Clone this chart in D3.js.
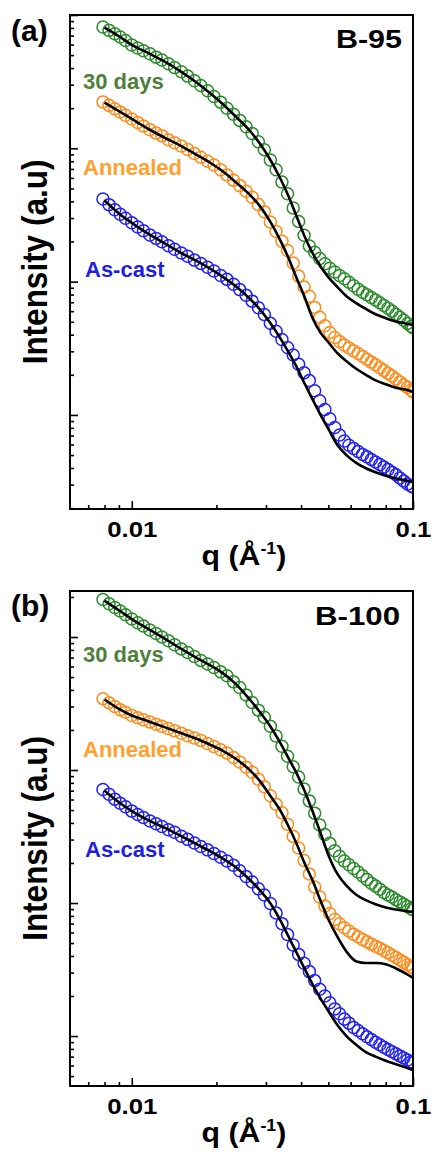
<html>
<head>
<meta charset="utf-8">
<title>SAXS profiles B-95 / B-100</title>
<style>
  body { margin: 0; background: #fff; }
  svg text { font-family: Arial, "Liberation Sans", sans-serif; font-weight: bold; }
</style>
</head>
<body>
<script src="https://cdn.jsdelivr.net/npm/d3@7/dist/d3.min.js"></script>
<script>

var width = 432,
    height = 1154;

// q values of the measured points (1/A)
var qData = [0.0079, 0.0083, 0.0087, 0.0091, 0.0095, 0.0100, 0.0105, 0.0110, 0.0116, 0.0122,
             0.0128, 0.0135, 0.0142, 0.0150, 0.0158, 0.0167, 0.0176, 0.0186, 0.0196, 0.0207,
             0.0218, 0.0230, 0.0242, 0.0255, 0.0268, 0.0282, 0.0296, 0.0311, 0.0326, 0.0342,
             0.0358, 0.0375, 0.0392, 0.0410, 0.0428, 0.0447, 0.0466, 0.0486, 0.0506, 0.0527,
             0.0548, 0.0570, 0.0592, 0.0615, 0.0638, 0.0662, 0.0686, 0.0711, 0.0736, 0.0762,
             0.0788, 0.0815, 0.0842, 0.0870, 0.0898, 0.0927, 0.0956, 0.0985, 0.1000];

// q values of the fitted curves
var qFit = [0.0080, 0.0090, 0.0100, 0.0115, 0.0130, 0.0150, 0.0170, 0.0190, 0.0210, 0.0235,
            0.0260, 0.0285, 0.0310, 0.0335, 0.0360, 0.0385, 0.0410, 0.0440, 0.0470, 0.0500,
            0.0540, 0.0580, 0.0630, 0.0680, 0.0740, 0.0800, 0.0870, 0.0940, 0.1000];

// B-95 intensities (a.u.)
var b95Days30 = [814, 767, 724, 684, 643, 596, 565, 540, 512, 483, 459, 431, 403, 375, 348, 321, 296, 270, 245, 222,
                 200, 180, 162, 145, 129, 112, 97.7, 81.8, 69.0, 55.8, 45.6, 35.7, 28.3, 22.3, 18.5, 16.6, 14.9, 13.6, 12.6, 11.8,
                 11.1, 10.5, 9.90, 9.30, 8.77, 8.32, 7.96, 7.61, 7.29, 6.95, 6.63, 6.31, 6.01, 5.70, 5.41, 5.13, 4.86, 4.63, 4.51];
var b95Annealed = [223, 210, 198, 187, 177, 166, 156, 147, 138, 130, 124, 116, 110, 104, 97.9, 91.4, 85.6, 79.9, 75.0, 69.1,
                   63.2, 57.7, 52.5, 47.6, 43.0, 37.9, 33.4, 28.0, 23.8, 20.1, 17.1, 13.8, 11.0, 9.12, 7.76, 6.41, 5.41, 4.66, 4.15, 3.81,
                   3.55, 3.35, 3.18, 3.03, 2.89, 2.74, 2.62, 2.49, 2.38, 2.26, 2.16, 2.05, 1.96, 1.86, 1.77, 1.68, 1.61, 1.53, 1.49];
var b95AsCast = [41.7, 37.8, 34.6, 32.0, 29.9, 27.6, 25.7, 24.1, 22.4, 21.1, 19.9, 18.6, 17.5, 16.4, 15.5, 14.5, 13.7, 12.8, 12.0, 11.1,
                 10.4, 9.56, 8.71, 7.89, 7.14, 6.37, 5.66, 4.88, 4.25, 3.68, 3.21, 2.82, 2.40, 2.07, 1.81, 1.52, 1.28, 1.10, 0.938, 0.806,
                 0.707, 0.637, 0.593, 0.561, 0.532, 0.506, 0.485, 0.464, 0.444, 0.425, 0.407, 0.389, 0.372, 0.356, 0.337, 0.319, 0.303, 0.293, 0.288];
var b95FitDays30 = [804, 693, 596, 516, 450, 375, 312, 259, 216, 172, 139, 109, 82.8, 61.2, 44.3, 31.1, 22.3, 16.3, 12.9, 10.8,
                    9.05, 7.78, 6.87, 6.24, 5.67, 5.32, 5.03, 4.86, 4.73];
var b95FitAnnealed = [220, 190, 166, 139, 121, 104, 89.4, 77.9, 67.5, 55.4, 45.9, 37.0, 28.4, 21.0, 15.2, 10.7, 7.83, 5.29, 4.11, 3.51,
                      2.89, 2.53, 2.21, 2.00, 1.81, 1.70, 1.60, 1.55, 1.49];
var b95FitAsCast = [40.6, 32.5, 27.6, 22.7, 19.5, 16.4, 14.3, 12.5, 10.9, 9.19, 7.61, 6.22, 4.93, 3.85, 2.98, 2.31, 1.75, 1.30, 0.991, 0.785,
                    0.589, 0.500, 0.435, 0.398, 0.370, 0.350, 0.334, 0.323, 0.314];

// B-100 intensities (a.u.)
var b100Days30 = [1914, 1778, 1667, 1567, 1472, 1365, 1279, 1208, 1130, 1062, 1002, 936, 875, 814, 764, 713, 667, 627, 590, 547,
                  511, 460, 417, 366, 322, 282, 249, 213, 180, 151, 127, 106, 88.6, 71.9, 58.6, 47.4, 38.6, 32.7, 28.1, 24.7,
                  22.5, 20.7, 19.4, 18.2, 17.1, 16.0, 15.0, 14.1, 13.4, 12.7, 12.0, 11.5, 11.1, 10.6, 10.2, 9.78, 9.41, 9.06, 8.89];
var b100Annealed = [344, 321, 300, 284, 272, 257, 247, 239, 230, 221, 213, 205, 197, 189, 181, 174, 167, 158, 150, 142,
                    134.5, 124, 115, 105, 96.3, 85.3, 74.9, 64.0, 55.3, 47.7, 39.1, 31.7, 25.9, 20.9, 16.5, 13.2, 11.1, 9.51, 8.34, 7.53,
                    6.99, 6.51, 6.16, 5.83, 5.58, 5.32, 5.11, 4.91, 4.73, 4.57, 4.40, 4.22, 4.05, 3.89, 3.73, 3.58, 3.44, 3.32, 3.26];
var b100AsCast = [71.3, 65.7, 60.4, 56.3, 52.9, 49.1, 46.3, 43.9, 41.4, 39.4, 37.6, 35.6, 34.0, 31.8, 30.1, 28.3, 26.6, 25.1, 23.6, 22.1,
                  20.7, 19.2, 17.5, 15.8, 14.4, 12.8, 11.5, 9.93, 8.40, 7.00, 5.79, 4.83, 4.11, 3.53, 3.05, 2.61, 2.25, 2.00, 1.78, 1.60,
                  1.47, 1.34, 1.25, 1.16, 1.10, 1.04, 0.986, 0.940, 0.898, 0.859, 0.822, 0.792, 0.763, 0.735, 0.709, 0.684, 0.661, 0.640, 0.629];
var b100FitDays30 = [1875, 1590, 1365, 1143, 982, 814, 697, 612, 537, 441, 348, 274, 215, 164, 124, 95.1, 71.0, 48.5, 33.2, 23.0,
                     16.4, 13.5, 11.5, 10.5, 9.76, 9.25, 8.94, 8.72, 8.56];
var b100FitAnnealed = [339, 288, 257, 232, 211, 189, 172, 155, 140, 121, 102, 82.9, 64.6, 50.9, 38.1, 28.1, 20.3, 14.7, 10.3, 7.55,
                       5.51, 4.31, 3.63, 3.54, 3.54, 3.47, 3.22, 2.96, 2.74];
var b100FitAsCast = [70.0, 57.3, 49.1, 41.8, 37.0, 31.8, 27.7, 24.5, 21.7, 18.5, 15.3, 12.5, 10.05, 7.63, 5.65, 4.25, 3.26, 2.44, 1.90, 1.54,
                     1.20, 1.00, 0.856, 0.758, 0.697, 0.651, 0.614, 0.581, 0.555];

var seriesNames = ["30 days", "Annealed", "As-cast"];
var xTickLabels = [0.01, 0.1];
var yTitle = "Intensity (a.u)";

var pointColors = ["#2b8a2b", "#ff8a18", "#2020f2"];
var labelColors = ["#4d7f3a", "#ffa030", "#1f1fe0"];

var panels = [
  { letter: "(a)", sample: "B-95", top: 15, bottom: 509, yDomain: [0.197, 1000],
    data: [b95Days30, b95Annealed, b95AsCast], fits: [b95FitDays30, b95FitAnnealed, b95FitAsCast],
    labelY: [89, 175, 277], letterY: 41, sampleY: 48, sampleX: 402, sampleSx: 1.22 },
  { letter: "(b)", sample: "B-100", top: 591, bottom: 1086, yDomain: [0.421, 2218],
    data: [b100Days30, b100Annealed, b100AsCast], fits: [b100FitDays30, b100FitAnnealed, b100FitAsCast],
    labelY: [662, 757, 857], letterY: 616, sampleY: 625, sampleX: 400, sampleSx: 1.25 }
];

var left = 70, right = 413;

var svg = d3.select("body")
            .append("svg")
            .attr("width", width)
            .attr("height", height);

var x = d3.scaleLog().domain([0.00603, 0.1]).range([left, right]);

function isDecade(v) {
  var l = Math.log10(v);
  return Math.abs(l - Math.round(l)) < 1e-9;
}

function scaledText(parent, txt, tx, ty, size, sx, anchor) {
  return parent.append("text")
    .attr("transform", "translate(" + tx + "," + ty + ") scale(" + sx + ",1)")
    .attr("text-anchor", anchor)
    .style("font-size", size + "px")
    .text(txt);
}

function drawPanel(p, idx) {
  var g = svg.append("g");
  var y = d3.scaleLog().domain(p.yDomain).range([p.bottom, p.top]);

  var clipId = "clip" + idx;
  g.append("clipPath").attr("id", clipId)
    .append("rect")
    .attr("x", left).attr("y", p.top)
    .attr("width", right - left).attr("height", p.bottom - p.top);

  // y ticks, inward
  var yTicks = y.ticks();
  var yMajor = yTicks.filter(isDecade), yMinor = yTicks.filter(function(v){ return !isDecade(v); });
  g.append("g").attr("transform", "translate(" + left + ",0)")
    .call(d3.axisLeft(y).tickValues(yMinor).tickSize(-4).tickFormat(""));
  g.append("g").attr("transform", "translate(" + left + ",0)")
    .call(d3.axisLeft(y).tickValues(yMajor).tickSize(-8).tickFormat(""));

  // x ticks, inward
  var xMinor = x.ticks().filter(function(v){ return !isDecade(v) && v >= x.domain()[0]; });
  g.append("g").attr("transform", "translate(0," + p.bottom + ")")
    .call(d3.axisBottom(x).tickValues(xMinor).tickSize(-4).tickFormat(""));
  var xAx = g.append("g").attr("transform", "translate(0," + p.bottom + ")")
    .call(d3.axisBottom(x).tickValues(xTickLabels).tickSize(-8).tickPadding(12)
          .tickFormat(function(d){ return String(d); }));
  xAx.selectAll("text")
    .style("font-size", "23px").attr("fill", "#000")
    .attr("transform", "scale(1.12,1)");

  g.selectAll(".domain").remove();
  g.selectAll(".tick line").attr("stroke", "#000").attr("stroke-width", 1.6);

  // data points then fits
  var plot = g.append("g").attr("clip-path", "url(#" + clipId + ")");
  p.data.forEach(function(series, s) {
    var pts = qData.map(function(q, i){ return { q: q, v: series[i] }; });
    plot.append("g").selectAll("circle").data(pts)
      .enter().append("circle")
      .attr("cx", function(d){ return x(d.q); })
      .attr("cy", function(d){ return y(d.v); })
      .attr("r", 6)
      .attr("fill", "none")
      .attr("stroke", pointColors[s])
      .attr("stroke-width", 1.5);
  });

  var line = d3.line()
    .x(function(d){ return x(d.q); })
    .y(function(d){ return y(d.v); })
    .curve(d3.curveMonotoneX);

  p.fits.forEach(function(series) {
    var pts = qFit.map(function(q, i){ return { q: q, v: series[i] }; });
    plot.append("path").datum(pts)
      .attr("d", line)
      .attr("fill", "none")
      .attr("stroke", "#000")
      .attr("stroke-width", 2.6);
  });

  // frame
  g.append("rect")
    .attr("x", left).attr("y", p.top)
    .attr("width", right - left).attr("height", p.bottom - p.top)
    .attr("fill", "none").attr("stroke", "#000").attr("stroke-width", 2);

  // series labels
  seriesNames.forEach(function(name, s) {
    g.append("text")
      .attr("x", s === 2 ? 85 : 83).attr("y", p.labelY[s])
      .attr("fill", labelColors[s])
      .style("font-size", "22px")
      .text(name);
  });

  // panel letter and sample name
  g.append("text").attr("x", 11).attr("y", p.letterY)
    .style("font-size", "30px").text(p.letter);
  scaledText(g, p.sample, p.sampleX, p.sampleY, 25, p.sampleSx, "end");

  // axis titles
  var cy = (p.top + p.bottom) / 2;
  g.append("text")
    .attr("transform", "translate(47," + cy + ") scale(1.1,1) rotate(-90)")
    .attr("text-anchor", "middle")
    .style("font-size", "31.5px")
    .text(yTitle);

  var qt = scaledText(g, "", 244, p.bottom + 56, 27, 1.12, "middle");
  qt.append("tspan").text("q (\u00C5");
  qt.append("tspan").attr("dy", -11).style("font-size", "16px").text("-1");
  qt.append("tspan").attr("dy", 11).text(")");
}

panels.forEach(drawPanel);

</script>
</body>
</html>
